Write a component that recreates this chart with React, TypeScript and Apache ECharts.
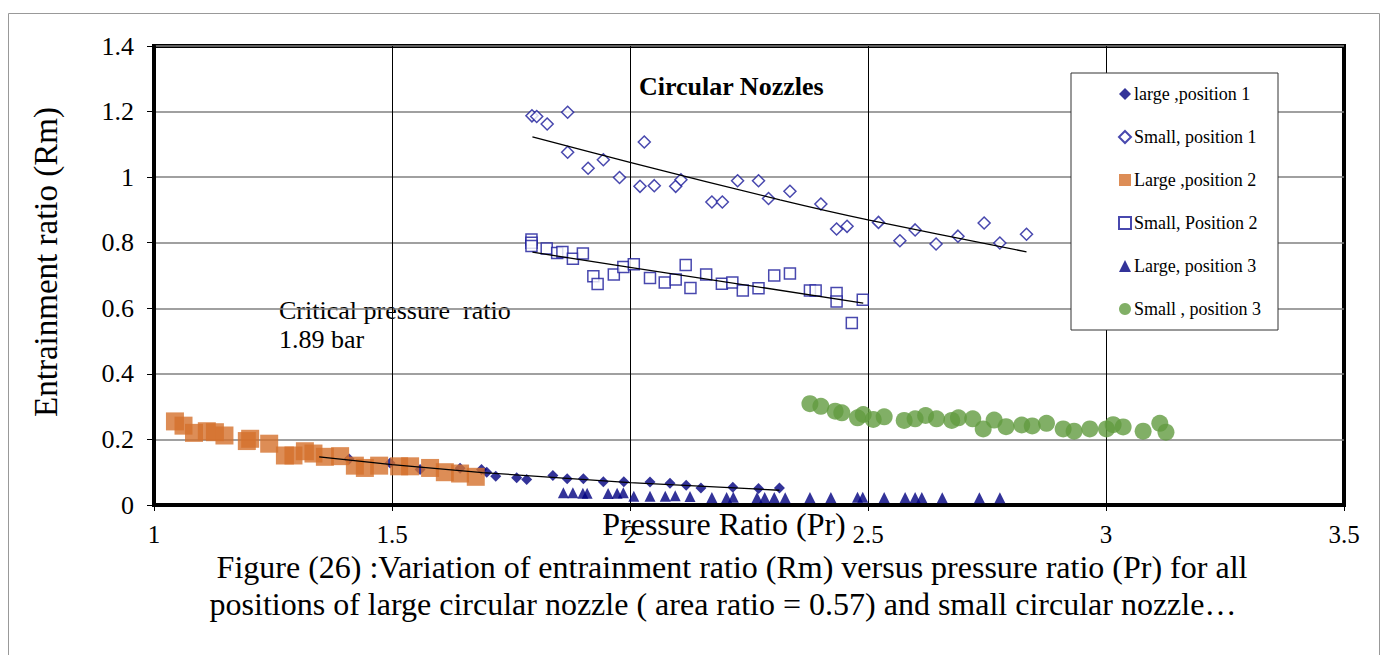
import React, { useEffect, useRef } from "react";
import * as echarts from "echarts";

// ---- data ----
const largePos1: number[][] = [
  [1.41, 0.14], [1.496, 0.128], [1.559, 0.108], [1.643, 0.112],
  [1.688, 0.108], [1.699, 0.1], [1.718, 0.088], [1.762, 0.083], [1.783, 0.078],
  [1.838, 0.09], [1.868, 0.08], [1.902, 0.08], [1.944, 0.071], [1.987, 0.071],
  [2.042, 0.07], [2.084, 0.066], [2.118, 0.06], [2.149, 0.052], [2.216, 0.054],
  [2.27, 0.05], [2.314, 0.052],
];

const smallPos1: number[][] = [
  [1.794, 1.187], [1.804, 1.185], [1.826, 1.162], [1.869, 1.198], [1.869, 1.076],
  [1.912, 1.027], [1.944, 1.053], [1.978, 0.999], [2.021, 0.972], [2.03, 1.107],
  [2.051, 0.974], [2.096, 0.972], [2.107, 0.992], [2.172, 0.924], [2.194, 0.924],
  [2.226, 0.989], [2.27, 0.989], [2.291, 0.935], [2.336, 0.957], [2.401, 0.918],
  [2.434, 0.842], [2.456, 0.85], [2.522, 0.862], [2.567, 0.806], [2.599, 0.839],
  [2.643, 0.796], [2.689, 0.82], [2.744, 0.86], [2.777, 0.799], [2.833, 0.826],
];

const largePos2: number[][] = [
  [1.044, 0.255], [1.062, 0.242], [1.084, 0.22], [1.111, 0.225], [1.128, 0.222],
  [1.148, 0.212], [1.195, 0.195], [1.202, 0.202], [1.242, 0.187], [1.275, 0.151],
  [1.293, 0.151], [1.317, 0.164], [1.335, 0.157], [1.359, 0.147], [1.391, 0.149],
  [1.422, 0.12], [1.443, 0.113], [1.473, 0.12], [1.515, 0.118], [1.538, 0.118],
  [1.58, 0.113], [1.611, 0.1], [1.643, 0.096], [1.676, 0.086],
];

const smallPos2: number[][] = [
  [1.793, 0.81], [1.793, 0.8], [1.793, 0.79], [1.825, 0.782], [1.847, 0.769],
  [1.858, 0.772], [1.88, 0.751], [1.901, 0.767], [1.923, 0.698], [1.932, 0.674],
  [1.966, 0.703], [1.986, 0.726], [2.008, 0.734], [2.042, 0.692], [2.073, 0.679],
  [2.096, 0.688], [2.117, 0.732], [2.127, 0.662], [2.16, 0.703], [2.193, 0.675],
  [2.215, 0.679], [2.237, 0.654], [2.27, 0.661], [2.303, 0.7], [2.336, 0.706],
  [2.378, 0.654], [2.39, 0.654], [2.434, 0.647], [2.434, 0.621], [2.466, 0.555],
  [2.489, 0.626],
];

const largePos3: number[][] = [
  [1.86, 0.037], [1.88, 0.037], [1.901, 0.036], [1.91, 0.036], [1.954, 0.035],
  [1.973, 0.036], [1.986, 0.037], [2.008, 0.027], [2.042, 0.027], [2.074, 0.027],
  [2.095, 0.028], [2.126, 0.026], [2.172, 0.023], [2.203, 0.023], [2.217, 0.024],
  [2.267, 0.023], [2.283, 0.023], [2.303, 0.023], [2.326, 0.022], [2.378, 0.023],
  [2.422, 0.023], [2.478, 0.024], [2.489, 0.024], [2.534, 0.023], [2.578, 0.023],
  [2.599, 0.023], [2.613, 0.023], [2.656, 0.022], [2.734, 0.022], [2.777, 0.022],
];

const smallPos3: number[][] = [
  [2.378, 0.309], [2.401, 0.301], [2.431, 0.286], [2.445, 0.281], [2.478, 0.266],
  [2.49, 0.276], [2.511, 0.261], [2.534, 0.269], [2.576, 0.258], [2.599, 0.263],
  [2.621, 0.273], [2.644, 0.263], [2.676, 0.258], [2.69, 0.266], [2.72, 0.263],
  [2.742, 0.232], [2.765, 0.259], [2.79, 0.239], [2.823, 0.244], [2.845, 0.241],
  [2.875, 0.249], [2.91, 0.232], [2.933, 0.225], [2.966, 0.232], [3.001, 0.232],
  [3.015, 0.245], [3.036, 0.238], [3.078, 0.225], [3.113, 0.249], [3.126, 0.222],
];

const trendSmall1: number[][] = [[1.795, 1.123], [2.0, 1.045], [2.315, 0.931], [2.5, 0.87], [2.833, 0.772]];
const trendSmall2: number[][] = [[1.795, 0.771], [2.0, 0.725], [2.49, 0.616]];
const trendLarge: number[][] = [[1.347, 0.147], [1.5, 0.123], [1.69, 0.099], [2.0, 0.068], [2.314, 0.045]];

const seriesNames = [
  "large ,position 1",
  "Small, position 1",
  "Large ,position 2",
  "Small, Position 2",
  "Large, position 3",
  "Small , position 3",
];

const xTicks = { min: 1, max: 3.5, interval: 0.5 };
const yTicks = { min: 0, max: 1.4, interval: 0.2 };

const FONT = "Liberation Serif";
const NAVY = "#000080";

export default function App() {
  const ref = useRef<HTMLDivElement>(null);

  useEffect(() => {
    if (!ref.current) return;
    const chart = echarts.init(ref.current, undefined, { renderer: "svg" });
    const trendStyle = {
      type: "line" as const,
      showSymbol: false,
      symbol: "none",
      silent: true,
      lineStyle: { color: "#000", width: 1.3 },
      z: 5,
    };
    const txt = (text: string, x: number, y: number, size: number, align = "left", extra: any = {}) => ({
      type: "text",
      x,
      y,
      ...extra,
      style: {
        text,
        fontFamily: FONT,
        fontSize: size,
        fontWeight: extra.bold ? "bold" : "normal",
        fill: "#000",
        align,
        verticalAlign: "middle",
      },
    });
    chart.setOption({
      animation: false,
      backgroundColor: "#fff",
      textStyle: { fontFamily: FONT },
      grid: {
        left: 154,
        top: 46,
        right: 48,
        bottom: 150,
        show: true,
        borderColor: "#000",
        borderWidth: 4,
      },
      xAxis: {
        type: "value",
        min: xTicks.min,
        max: xTicks.max,
        interval: xTicks.interval,
        axisLine: { lineStyle: { color: "#000", width: 4 } },
        axisTick: { show: true, length: 6, lineStyle: { color: "#000", width: 1 } },
        axisLabel: { color: "#000", fontSize: 25, fontFamily: FONT, margin: 17 },
        splitLine: { show: true, lineStyle: { color: "#000", width: 1 } },
      },
      yAxis: {
        type: "value",
        min: yTicks.min,
        max: yTicks.max,
        interval: yTicks.interval,
        axisLine: { lineStyle: { color: "#000", width: 4 } },
        axisTick: { show: true, length: 7, lineStyle: { color: "#000", width: 1 } },
        axisLabel: { color: "#000", fontSize: 26, fontFamily: FONT, margin: 20 },
        splitLine: { show: true, lineStyle: { color: "#808080", width: 1.6 } },
      },
      legend: {
        orient: "vertical",
        left: 1071,
        top: 73,
        data: seriesNames,
        padding: [12, 17, 12, 47],
        itemGap: 25,
        itemWidth: 12,
        itemHeight: 12,
        borderColor: "#333",
        borderWidth: 1,
        backgroundColor: "#fff",
        textStyle: { color: "#000", fontSize: 18, fontFamily: FONT, lineHeight: 18, padding: [0, 0, 0, -2] },
      },
      graphic: [
        {
          type: "rect",
          shape: { x: 8.5, y: 13.5, width: 1371, height: 660 },
          style: { fill: "none", stroke: "#999", lineWidth: 1 },
          silent: true,
          z: -10,
        },
        txt("Circular Nozzles", 639, 86, 26, "left", { bold: true }),
        txt("Critical pressure  ratio", 279, 310, 26),
        txt("1.89 bar", 279, 339, 26),
        txt("Pressure Ratio (Pr)", 724, 524, 32, "center"),
        txt("Entrainment ratio (Rm)", 46, 262, 33, "center", { rotation: Math.PI / 2 }),
        txt(
          "Figure (26) :Variation of entrainment ratio (Rm) versus pressure ratio (Pr) for all",
          732,
          567,
          32,
          "center"
        ),
        txt(
          "positions of large circular nozzle ( area ratio = 0.57) and small circular nozzle\u2026",
          723,
          604,
          32,
          "center"
        ),
      ],
      series: [
        {
          name: seriesNames[0],
          type: "scatter",
          data: largePos1,
          symbol: "diamond",
          symbolSize: 11,
          itemStyle: { color: NAVY },
          z: 2,
        },
        {
          name: seriesNames[1],
          type: "scatter",
          data: smallPos1,
          symbol: "diamond",
          symbolSize: 12,
          itemStyle: { color: "#fff", borderColor: "#1a1a9a", borderWidth: 1.5 },
          z: 2,
        },
        {
          name: seriesNames[2],
          type: "scatter",
          data: largePos2,
          symbol: "rect",
          symbolSize: 18,
          itemStyle: { color: "#D4702C" },
          z: 3,
        },
        {
          name: seriesNames[3],
          type: "scatter",
          data: smallPos2,
          symbol: "rect",
          symbolSize: 11,
          itemStyle: { color: "#fff", borderColor: "#1a1a9a", borderWidth: 1.5 },
          z: 3,
        },
        {
          name: seriesNames[4],
          type: "scatter",
          data: largePos3,
          symbol: "triangle",
          symbolSize: 11,
          itemStyle: { color: NAVY },
          z: 3,
        },
        {
          name: seriesNames[5],
          type: "scatter",
          data: smallPos3,
          symbol: "circle",
          symbolSize: 17,
          itemStyle: { color: "#629B40" },
          z: 3,
        },
        { ...trendStyle, name: "t1", data: trendSmall1, smooth: 0.3 },
        { ...trendStyle, name: "t2", data: trendSmall2 },
        { ...trendStyle, name: "t3", data: trendLarge },
      ],
    });
    return () => chart.dispose();
  }, []);

  return (
    <div
      ref={ref}
      style={{ position: "fixed", left: 0, top: 0, width: 1392, height: 655, background: "#fff" }}
    />
  );
}
